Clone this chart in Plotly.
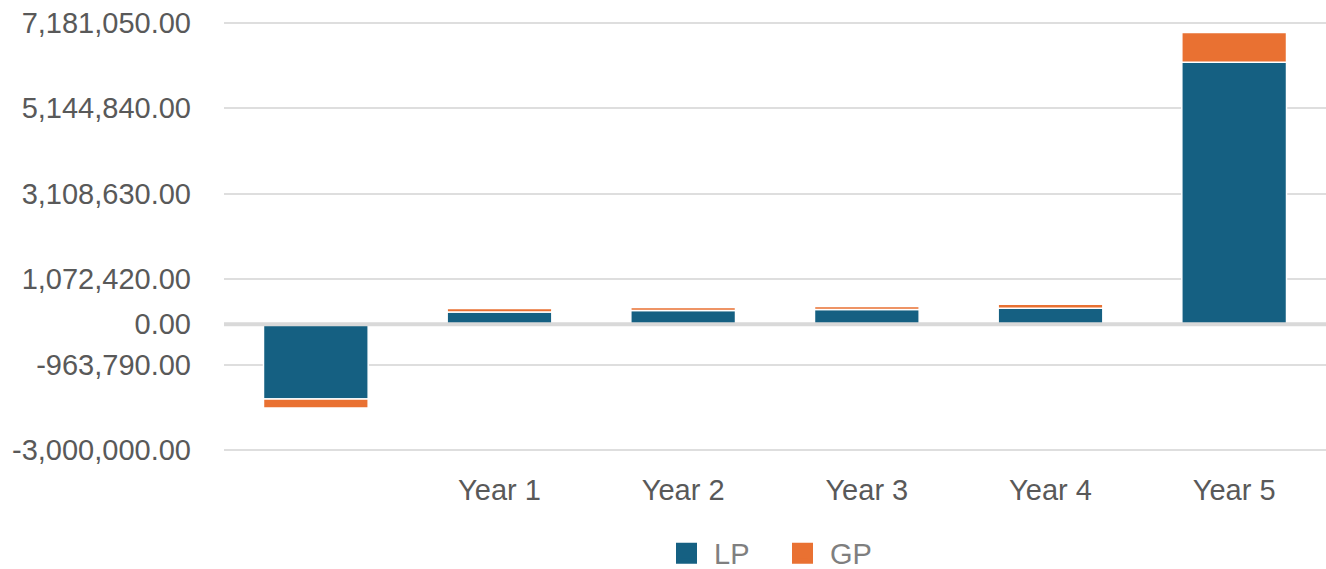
import plotly.graph_objects as go

# Yearly distributions split between limited and general partners
categories = ["Year 0", "Year 1", "Year 2", "Year 3", "Year 4", "Year 5"]
category_labels = ["", "Year 1", "Year 2", "Year 3", "Year 4", "Year 5"]
lp_values = [-1778000, 290000, 327000, 351000, 382000, 6238000]
gp_values = [-215000, 85000, 72000, 72000, 96000, 710000]

y_tick_values = [-3000000, -963790, 0, 1072420, 3108630, 5144840, 7181050]
y_range = [-3040000, 7220000]

lp_color = "#156082"
gp_color = "#E97132"
font_family = "Liberation Sans, Arial, sans-serif"

fig = go.Figure()
fig.add_trace(go.Bar(
    x=categories, y=lp_values, name="LP",
    marker=dict(color=lp_color, line=dict(color="white", width=1.5)),
    showlegend=False,
))
fig.add_trace(go.Bar(
    x=categories, y=gp_values, name="GP",
    marker=dict(color=gp_color, line=dict(color="white", width=1.5)),
    showlegend=False,
))

# Legend entries with large square swatches
for name, color in [("LP", lp_color), ("GP", gp_color)]:
    fig.add_trace(go.Scatter(
        x=[None], y=[None], mode="markers", name=name,
        marker=dict(symbol="square", size=25, color=color,
                    line=dict(color=color, width=5)),
    ))

# Zero baseline drawn over the bars
fig.add_shape(
    type="line", xref="paper", x0=0, x1=1, yref="y", y0=0, y1=0,
    line=dict(color="#d9d9d9", width=4), layer="above",
)

fig.update_layout(
    width=1326, height=569,
    margin=dict(l=224, r=0, t=21, b=117, autoexpand=False),
    paper_bgcolor="white", plot_bgcolor="white",
    barmode="relative", bargap=0.43,
    font=dict(family=font_family, size=29, color="#595959"),
    legend=dict(
        orientation="h", x=0.5, xanchor="center", y=-0.235, yanchor="middle",
        font=dict(size=29, color="#7f7f7f"), itemwidth=45,
        entrywidth=56, entrywidthmode="pixels",
        traceorder="normal",
    ),
    xaxis=dict(
        type="category", categoryorder="array", categoryarray=categories,
        tickvals=categories, ticktext=category_labels,
        showgrid=False, showline=False, ticks="",
        ticklabelstandoff=18,
        tickfont=dict(size=29, color="#595959"),
    ),
    yaxis=dict(
        range=y_range, tickvals=y_tick_values,
        ticktext=[f"{v:,.2f}" for v in y_tick_values],
        showgrid=True, gridcolor="#dedede", gridwidth=1.5,
        zeroline=False, showline=False, ticks="",
        ticklabelstandoff=32,
        tickfont=dict(size=29, color="#595959"),
    ),
)

fig.write_html("out.html")
